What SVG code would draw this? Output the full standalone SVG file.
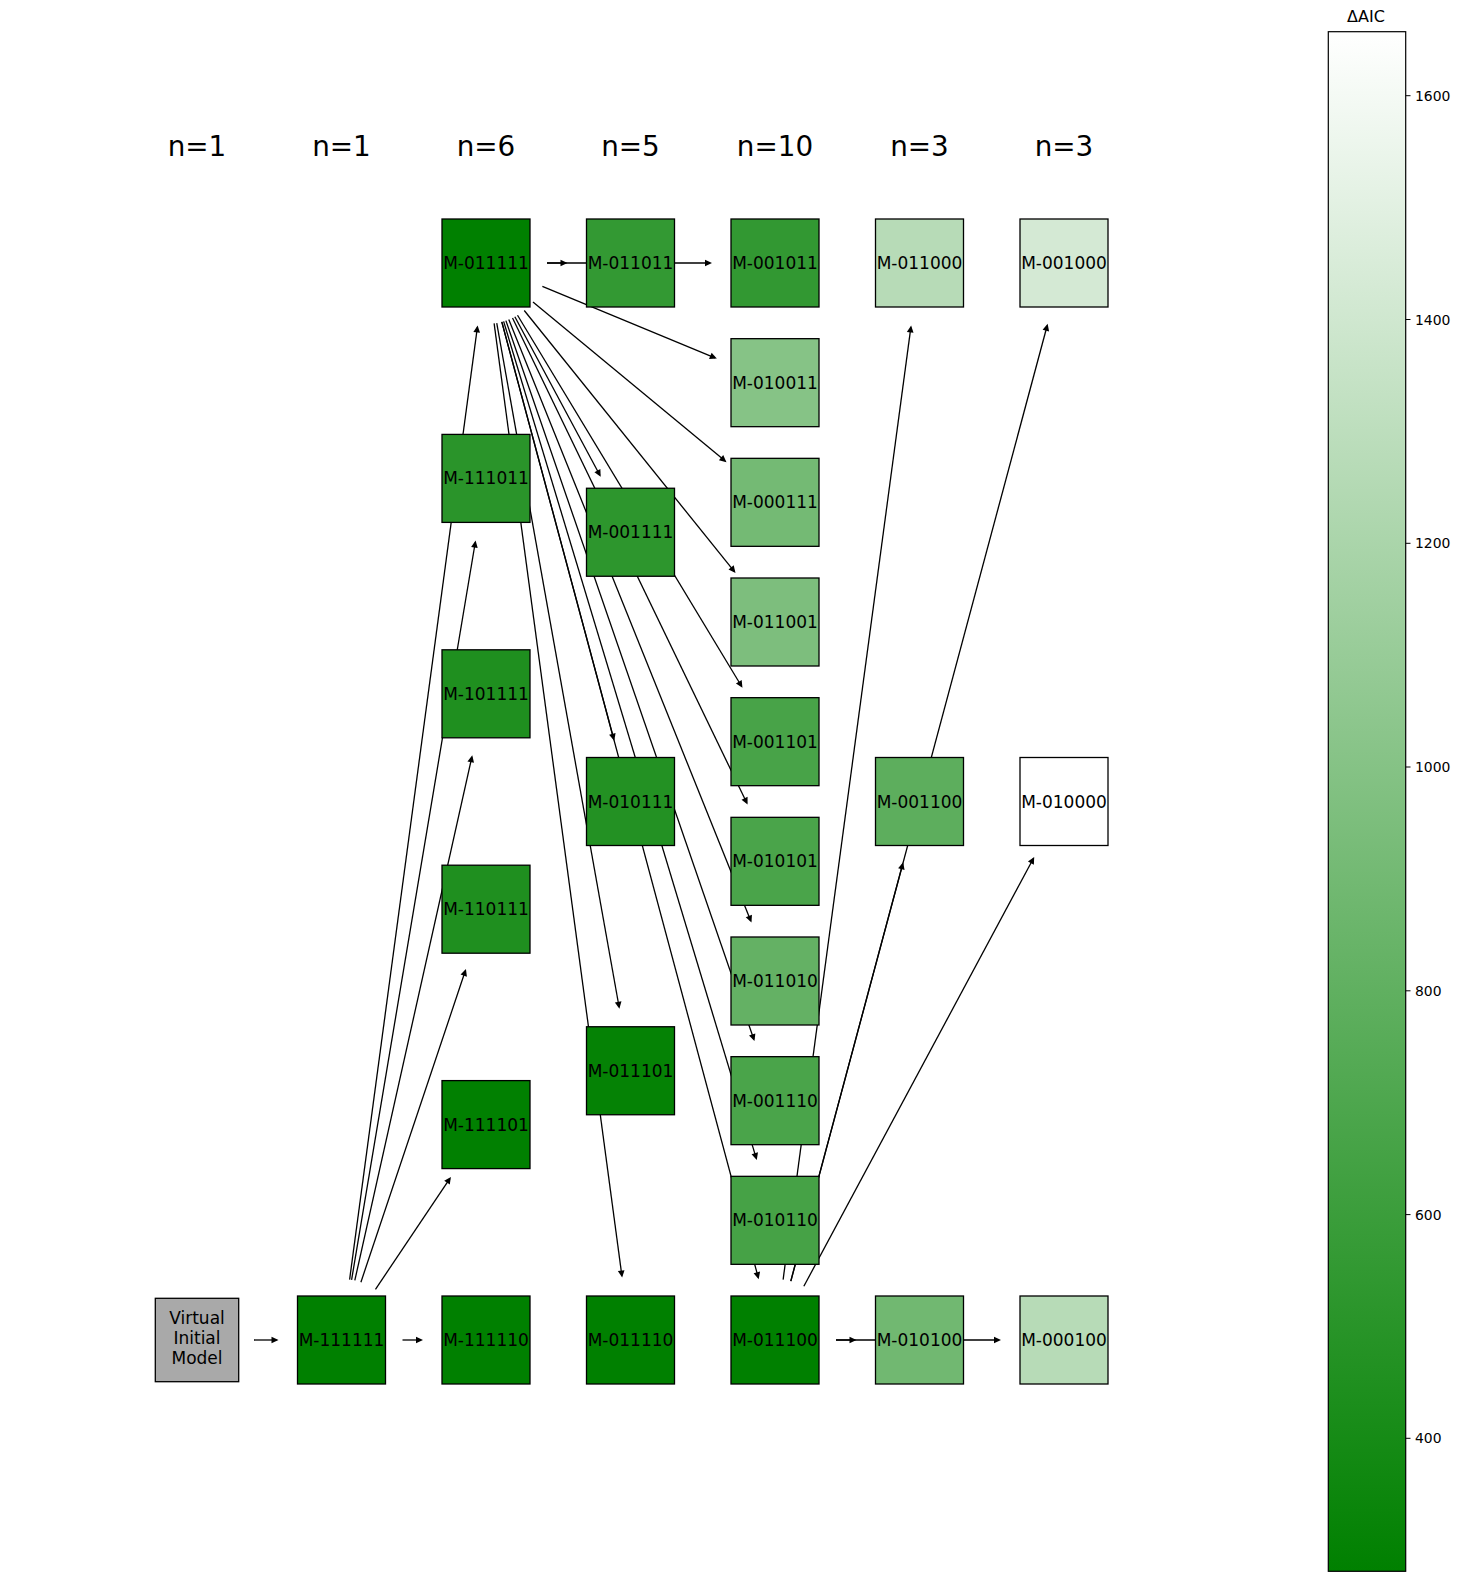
<svg xmlns="http://www.w3.org/2000/svg" width="1460" height="1581" viewBox="0 0 1460 1581">
<style>
text{font-family:"DejaVu Sans","Liberation Sans",sans-serif;fill:#000}
.hdr{font-size:27.8px;text-anchor:middle}
.lbl{font-size:17px;text-anchor:middle}
.node rect{stroke:#000;stroke-width:1.3}
.edges line{stroke:#000;stroke-width:1.3;marker-end:url(#ah)}
.tick{stroke:#000;stroke-width:1}
.tl{font-size:13.9px}
</style>
<defs>
<marker id="ah" markerUnits="userSpaceOnUse" markerWidth="12" markerHeight="12" refX="5" refY="3.35" orient="auto" overflow="visible">
<path d="M0,0 L7,3.35 L0,6.7 z" fill="#000"/>
</marker>
<linearGradient id="cb" x1="0" y1="1" x2="0" y2="0">
<stop offset="0" stop-color="#008000"/>
<stop offset="1" stop-color="#ffffff"/>
</linearGradient>
</defs>
<rect width="1460" height="1581" fill="#fff"/>
<g id="headers">
<text class="hdr" x="197" y="156">n=1</text>
<text class="hdr" x="341.5" y="156">n=1</text>
<text class="hdr" x="486" y="156">n=6</text>
<text class="hdr" x="630.5" y="156">n=5</text>
<text class="hdr" x="775" y="156">n=10</text>
<text class="hdr" x="919.5" y="156">n=3</text>
<text class="hdr" x="1064" y="156">n=3</text>
</g>
<g id="edges" class="edges">
<line x1="254" y1="1340" x2="276.5" y2="1340"/>
<line x1="402.5" y1="1340" x2="421" y2="1340"/>
<line x1="375.48" y1="1289.35" x2="449.79" y2="1178.58"/>
<line x1="360.9" y1="1282.17" x2="465.33" y2="970.83"/>
<line x1="354.81" y1="1280.47" x2="471.82" y2="757.23"/>
<line x1="351.59" y1="1279.84" x2="475.25" y2="542.5"/>
<line x1="349.61" y1="1279.54" x2="477.36" y2="327.42"/>
<line x1="547" y1="263" x2="565.5" y2="263"/>
<line x1="547" y1="263" x2="710" y2="263"/>
<line x1="514.85" y1="316.75" x2="599.76" y2="474.98"/>
<line x1="501.81" y1="321.91" x2="613.65" y2="738.72"/>
<line x1="496.74" y1="323.05" x2="619.05" y2="1006.76"/>
<line x1="494.11" y1="323.46" x2="621.86" y2="1275.58"/>
<line x1="542.36" y1="286.34" x2="714.95" y2="357.8"/>
<line x1="532.98" y1="301.91" x2="724.94" y2="460.87"/>
<line x1="524.25" y1="310.52" x2="734.24" y2="571.36"/>
<line x1="517.53" y1="315.22" x2="741.4" y2="686.02"/>
<line x1="512.53" y1="317.93" x2="746.73" y2="802.8"/>
<line x1="508.78" y1="319.59" x2="750.73" y2="920.7"/>
<line x1="505.89" y1="320.66" x2="753.8" y2="1039.23"/>
<line x1="503.63" y1="321.4" x2="756.21" y2="1158.1"/>
<line x1="501.81" y1="321.91" x2="758.15" y2="1277.22"/>
<line x1="836" y1="1340" x2="854.5" y2="1340"/>
<line x1="836" y1="1340" x2="999" y2="1340"/>
<line x1="783.11" y1="1279.54" x2="910.86" y2="327.42"/>
<line x1="790.81" y1="1281.09" x2="902.65" y2="864.28"/>
<line x1="790.81" y1="1281.09" x2="1047.15" y2="325.78"/>
<line x1="803.85" y1="1286.25" x2="1033.26" y2="858.77"/>
</g>
<g id="n-virtual" class="node"><rect x="155.3" y="1298.3" width="83.4" height="83.4" fill="#a9a9a9"/>
<text class="lbl" x="197" y="1324">Virtual</text><text class="lbl" x="197" y="1344">Initial</text><text class="lbl" x="197" y="1364">Model</text></g>
<g id="n-111111" class="node"><rect x="297.5" y="1296" width="88" height="88" fill="#008000"/><text class="lbl" x="341.5" y="1346">M-111111</text></g>
<g id="n-011111" class="node"><rect x="442" y="219" width="88" height="88" fill="#008000"/><text class="lbl" x="486" y="269">M-011111</text></g>
<g id="n-111011" class="node"><rect x="442" y="434.4" width="88" height="88" fill="#2a942a"/><text class="lbl" x="486" y="484.4">M-111011</text></g>
<g id="n-101111" class="node"><rect x="442" y="649.8" width="88" height="88" fill="#1f8f1f"/><text class="lbl" x="486" y="699.8">M-101111</text></g>
<g id="n-110111" class="node"><rect x="442" y="865.2" width="88" height="88" fill="#1f8f1f"/><text class="lbl" x="486" y="915.2">M-110111</text></g>
<g id="n-111101" class="node"><rect x="442" y="1080.6" width="88" height="88" fill="#018001"/><text class="lbl" x="486" y="1130.6">M-111101</text></g>
<g id="n-111110" class="node"><rect x="442" y="1296" width="88" height="88" fill="#008000"/><text class="lbl" x="486" y="1346">M-111110</text></g>
<g id="n-011011" class="node"><rect x="586.5" y="219" width="88" height="88" fill="#339933"/><text class="lbl" x="630.5" y="269">M-011011</text></g>
<g id="n-001111" class="node"><rect x="586.5" y="488.25" width="88" height="88" fill="#2d962d"/><text class="lbl" x="630.5" y="538.25">M-001111</text></g>
<g id="n-010111" class="node"><rect x="586.5" y="757.5" width="88" height="88" fill="#239123"/><text class="lbl" x="630.5" y="807.5">M-010111</text></g>
<g id="n-011101" class="node"><rect x="586.5" y="1026.75" width="88" height="88" fill="#058205"/><text class="lbl" x="630.5" y="1076.75">M-011101</text></g>
<g id="n-011110" class="node"><rect x="586.5" y="1296" width="88" height="88" fill="#008000"/><text class="lbl" x="630.5" y="1346">M-011110</text></g>
<g id="n-001011" class="node"><rect x="731" y="219" width="88" height="88" fill="#329832"/><text class="lbl" x="775" y="269">M-001011</text></g>
<g id="n-010011" class="node"><rect x="731" y="338.67" width="88" height="88" fill="#86c386"/><text class="lbl" x="775" y="388.67">M-010011</text></g>
<g id="n-000111" class="node"><rect x="731" y="458.33" width="88" height="88" fill="#74ba74"/><text class="lbl" x="775" y="508.33">M-000111</text></g>
<g id="n-011001" class="node"><rect x="731" y="578" width="88" height="88" fill="#7dbe7d"/><text class="lbl" x="775" y="628">M-011001</text></g>
<g id="n-001101" class="node"><rect x="731" y="697.67" width="88" height="88" fill="#48a348"/><text class="lbl" x="775" y="747.67">M-001101</text></g>
<g id="n-010101" class="node"><rect x="731" y="817.33" width="88" height="88" fill="#4aa44a"/><text class="lbl" x="775" y="867.33">M-010101</text></g>
<g id="n-011010" class="node"><rect x="731" y="937" width="88" height="88" fill="#64b164"/><text class="lbl" x="775" y="987">M-011010</text></g>
<g id="n-001110" class="node"><rect x="731" y="1056.67" width="88" height="88" fill="#4aa44a"/><text class="lbl" x="775" y="1106.67">M-001110</text></g>
<g id="n-010110" class="node"><rect x="731" y="1176.33" width="88" height="88" fill="#46a246"/><text class="lbl" x="775" y="1226.33">M-010110</text></g>
<g id="n-011100" class="node"><rect x="731" y="1296" width="88" height="88" fill="#008000"/><text class="lbl" x="775" y="1346">M-011100</text></g>
<g id="n-011000" class="node"><rect x="875.5" y="219" width="88" height="88" fill="#b7dbb7"/><text class="lbl" x="919.5" y="269">M-011000</text></g>
<g id="n-001100" class="node"><rect x="875.5" y="757.5" width="88" height="88" fill="#5dae5d"/><text class="lbl" x="919.5" y="807.5">M-001100</text></g>
<g id="n-010100" class="node"><rect x="875.5" y="1296" width="88" height="88" fill="#71b871"/><text class="lbl" x="919.5" y="1346">M-010100</text></g>
<g id="n-001000" class="node"><rect x="1020" y="219" width="88" height="88" fill="#d4e9d4"/><text class="lbl" x="1064" y="269">M-001000</text></g>
<g id="n-010000" class="node"><rect x="1020" y="757.5" width="88" height="88" fill="#ffffff"/><text class="lbl" x="1064" y="807.5">M-010000</text></g>
<g id="n-000100" class="node"><rect x="1020" y="1296" width="88" height="88" fill="#b7dbb7"/><text class="lbl" x="1064" y="1346">M-000100</text></g>
<g id="colorbar">
<text x="1366" y="22" font-size="16" text-anchor="middle">ΔAIC</text>
<rect x="1328.3" y="31.7" width="77.4" height="1539.6" fill="url(#cb)" stroke="#000" stroke-width="1.2"/>
<line class="tick" x1="1405.7" y1="95.7" x2="1410.5" y2="95.7"/>
<line class="tick" x1="1405.7" y1="319.5" x2="1410.5" y2="319.5"/>
<line class="tick" x1="1405.7" y1="543.3" x2="1410.5" y2="543.3"/>
<line class="tick" x1="1405.7" y1="767" x2="1410.5" y2="767"/>
<line class="tick" x1="1405.7" y1="990.8" x2="1410.5" y2="990.8"/>
<line class="tick" x1="1405.7" y1="1214.6" x2="1410.5" y2="1214.6"/>
<line class="tick" x1="1405.7" y1="1438.3" x2="1410.5" y2="1438.3"/>
<text class="tl" x="1415" y="100.7">1600</text>
<text class="tl" x="1415" y="324.5">1400</text>
<text class="tl" x="1415" y="548.3">1200</text>
<text class="tl" x="1415" y="772">1000</text>
<text class="tl" x="1415" y="995.8">800</text>
<text class="tl" x="1415" y="1219.6">600</text>
<text class="tl" x="1415" y="1443.3">400</text>
</g>
</svg>
